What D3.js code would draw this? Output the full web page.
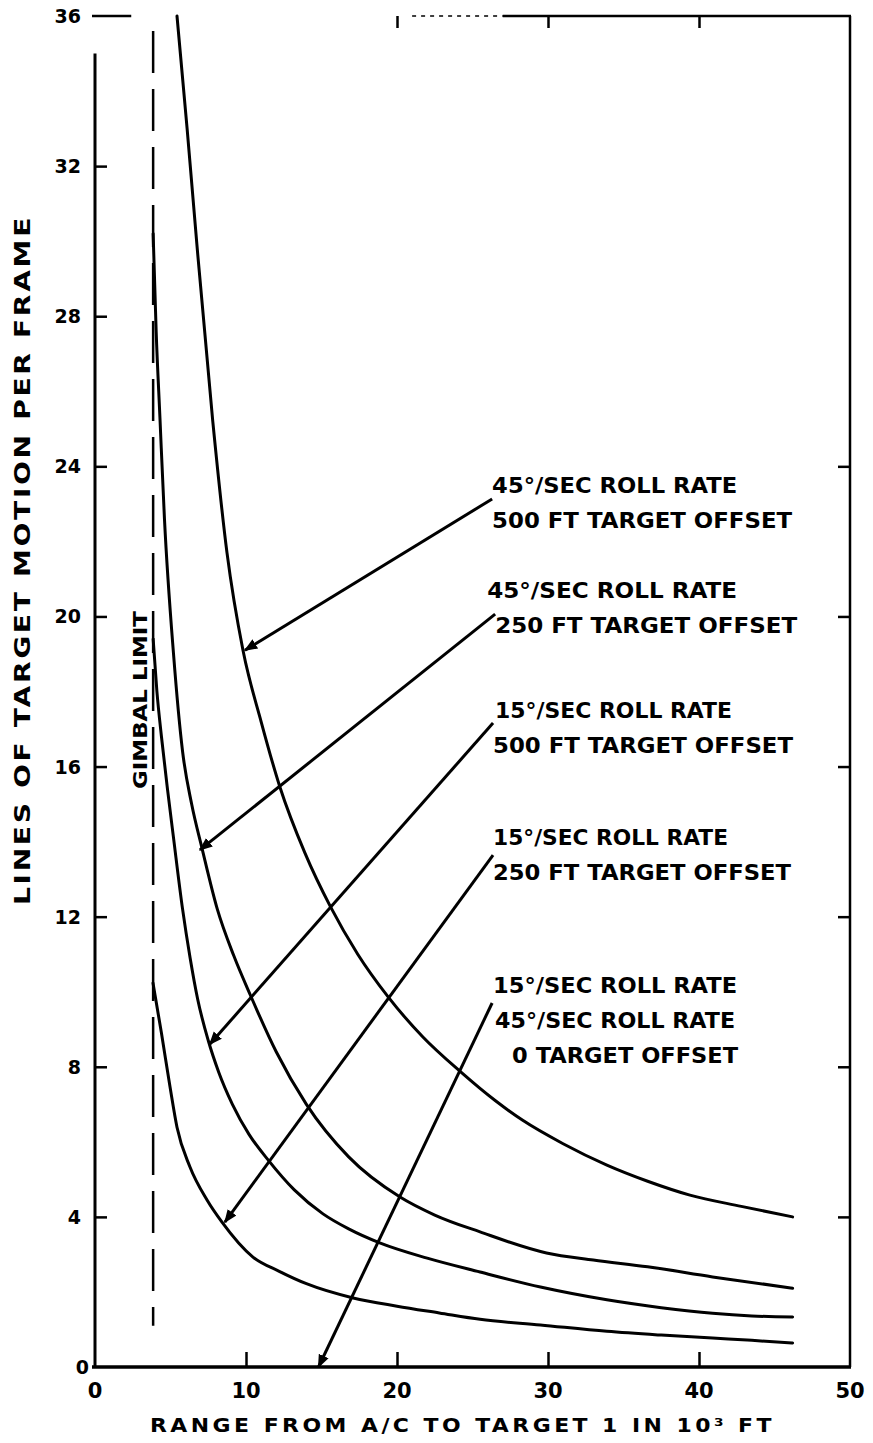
<!DOCTYPE html>
<html><head><meta charset="utf-8">
<script src="https://cdn.jsdelivr.net/npm/d3@7"></script>
<style>
html,body{margin:0;padding:0;background:#fff;}
svg{display:block;}
text{font-family:"DejaVu Sans","Liberation Sans",Arial,sans-serif;font-weight:bold;fill:#000;}
</style></head>
<body>
<script>
// ---- data ----
const xTicks = [0, 10, 20, 30, 40, 50];
const yTicks = [0, 4, 8, 12, 16, 20, 24, 28, 32, 36];
const xTitle = "RANGE FROM A/C TO TARGET 1 IN 10\u00B3 FT";
const yTitle = "LINES OF TARGET MOTION PER FRAME";
const gimbalLimitX = 3.85;
const gimbalRange = [1.1, 35.6];

const roll45off500 = [[5.43,36],[6.1,33.0],[6.75,29.9],[7.8,25.2],[8.74,21.7],[9.8,19.1],[11.0,17.2],[12.25,15.45],[13.9,13.7],[15.6,12.26],[17.4,11.0],[19.4,9.87],[21.7,8.8],[24.2,7.87],[26.5,7.1],[28.3,6.58],[31.0,5.95],[33.9,5.38],[36.6,4.95],[39.4,4.58],[42.8,4.28],[46.2,4.0]];
const roll45off250 = [[3.85,30.2],[4.05,27.6],[4.3,25.3],[4.6,22.6],[5.2,19.0],[5.8,16.4],[6.4,15.0],[7.1,13.8],[8.1,12.2],[9.2,10.95],[10.3,9.9],[12.0,8.4],[14.0,7.0],[16.8,5.6],[20.2,4.53],[22.5,4.05],[25.5,3.6],[29.9,3.04],[33.0,2.85],[36.6,2.67],[40.9,2.4],[46.2,2.1]];
const roll15off500 = [[3.85,19.4],[4.1,18.0],[4.4,16.8],[4.8,15.4],[5.2,14.1],[5.8,12.2],[6.3,10.9],[6.8,9.8],[7.5,8.7],[8.2,7.85],[9.1,7.0],[10.2,6.2],[11.5,5.5],[13.2,4.72],[15.1,4.08],[16.8,3.68],[18.9,3.3],[22.0,2.9],[25.5,2.53],[29.5,2.13],[33.9,1.79],[37.5,1.58],[40.9,1.43],[43.5,1.36],[46.2,1.33]];
const roll15off250 = [[3.84,10.23],[4.4,8.9],[4.97,7.46],[5.43,6.39],[6.29,5.33],[7.42,4.45],[8.41,3.86],[10.46,2.93],[12.2,2.55],[14.0,2.22],[17.1,1.84],[20.0,1.62],[22.8,1.44],[25.5,1.27],[29.5,1.12],[33.9,0.95],[37.5,0.85],[40.9,0.77],[43.5,0.71],[46.2,0.64]];

const labels = [
  ["45\u00B0/SEC ROLL RATE", "500 FT TARGET OFFSET"],
  ["45\u00B0/SEC ROLL RATE", "250 FT TARGET OFFSET"],
  ["15\u00B0/SEC ROLL RATE", "500 FT TARGET OFFSET"],
  ["15\u00B0/SEC ROLL RATE", "250 FT TARGET OFFSET"],
  ["15\u00B0/SEC ROLL RATE", "45\u00B0/SEC ROLL RATE", "0 TARGET OFFSET"]
];
// arrow tail / head in data units
const arrowTails = [[26.3,23.13],[26.5,20.06],[26.36,17.16],[26.36,13.64],[26.3,9.7]];
const arrowHeads = [[9.93,19.1],[6.95,13.78],[7.6,8.6],[8.6,3.86],[14.8,0]];

// ---- layout ----
const W = 873, H = 1443;
const L = 95, R = 850, T = 16, B = 1367;
const x = d3.scaleLinear().domain([0,50]).range([L,R]);
const y = d3.scaleLinear().domain([0,36]).range([B,T]);

const svg = d3.select("body").append("svg").attr("width",W).attr("height",H);
svg.append("defs").append("marker")
  .attr("id","ah").attr("viewBox","0 0 10 10").attr("refX",9).attr("refY",5)
  .attr("markerWidth",4.5).attr("markerHeight",4.5).attr("orient","auto-start-reverse")
  .attr("markerUnits","strokeWidth")
  .append("path").attr("d","M0,1 L10,5 L0,9 z").attr("fill","#000");

// frame
const frame = svg.append("g").attr("stroke","#000").attr("fill","none");
frame.append("line").attr("x1",L).attr("x2",L).attr("y1",y(35)).attr("y2",B).attr("stroke-width",3);
frame.append("line").attr("x1",L-3).attr("x2",R+1).attr("y1",B).attr("y2",B).attr("stroke-width",3.5);
frame.append("line").attr("x1",R).attr("x2",R).attr("y1",T).attr("y2",B).attr("stroke-width",2.5);
frame.append("line").attr("x1",x(27)).attr("x2",R+1).attr("y1",T).attr("y2",T).attr("stroke-width",2.5);
frame.append("line").attr("x1",x(21)).attr("x2",x(27)).attr("y1",T).attr("y2",T).attr("stroke-width",1.5).attr("stroke-dasharray","4,5");
frame.append("line").attr("x1",L-3).attr("x2",x(2.4)).attr("y1",T).attr("y2",T).attr("stroke-width",2.5);

// axes via d3
const xAxis = d3.axisBottom(x).tickValues(xTicks.slice(1,-1)).tickSize(-15).tickFormat("");
svg.append("g").attr("transform",`translate(0,${B})`).call(xAxis)
  .call(g=>{g.select(".domain").remove(); g.selectAll("line").attr("stroke","#000").attr("stroke-width",2.5);});
const xTopAxis = d3.axisTop(x).tickValues(xTicks.slice(2,-1)).tickSize(-12).tickFormat("");
svg.append("g").attr("transform",`translate(0,${T})`).call(xTopAxis)
  .call(g=>{g.select(".domain").remove(); g.selectAll("line").attr("stroke","#000").attr("stroke-width",2.5);});
const yAxis = d3.axisLeft(y).tickValues(yTicks.slice(1,-1)).tickSize(-12).tickFormat("");
svg.append("g").attr("transform",`translate(${L},0)`).call(yAxis)
  .call(g=>{g.select(".domain").remove(); g.selectAll("line").attr("stroke","#000").attr("stroke-width",2.5);});
const yRAxis = d3.axisRight(y).tickValues(yTicks.slice(1,7)).tickSize(-12).tickFormat("");
svg.append("g").attr("transform",`translate(${R},0)`).call(yRAxis)
  .call(g=>{g.select(".domain").remove(); g.selectAll("line").attr("stroke","#000").attr("stroke-width",2.5);});

// tick labels
svg.append("g").selectAll("text").data(xTicks).join("text")
  .attr("x",d=>x(d)).attr("y",B+31).attr("text-anchor","middle")
  .attr("font-size",21).text(d=>d);
svg.append("g").selectAll("text").data(yTicks).join("text")
  .attr("x",d=>d===0?L-6:L-14).attr("y",d=>y(d)+7).attr("text-anchor","end")
  .attr("font-size",19).text(d=>d);

// titles
svg.append("text").attr("x",x(0)+55).attr("y",1432).attr("font-size",19).attr("letter-spacing",3)
  .attr("textLength",625).attr("lengthAdjust","spacingAndGlyphs").text(xTitle);
svg.append("text").attr("transform",`translate(30,905) rotate(-90)`).attr("font-size",21)
  .attr("letter-spacing",2)
  .attr("textLength",690).attr("lengthAdjust","spacingAndGlyphs").text(yTitle);

// gimbal limit
svg.append("line").attr("x1",x(gimbalLimitX)).attr("x2",x(gimbalLimitX))
  .attr("y1",y(gimbalRange[1])).attr("y2",y(gimbalRange[0]))
  .attr("stroke","#000").attr("stroke-width",2.5).attr("stroke-dasharray","42,16");
svg.append("text").attr("transform",`translate(${x(gimbalLimitX)-6},789) rotate(-90)`)
  .attr("font-size",20).attr("textLength",178).attr("lengthAdjust","spacingAndGlyphs").text("GIMBAL LIMIT");

// curves
const line = d3.line().x(d=>x(d[0])).y(d=>y(d[1])).curve(d3.curveMonotoneX);
svg.append("g").selectAll("path").data([roll45off500,roll45off250,roll15off500,roll15off250]).join("path")
  .attr("d",line).attr("fill","none").attr("stroke","#000").attr("stroke-width",3).attr("stroke-linecap","round");

// arrows
svg.append("g").selectAll("line").data(arrowTails).join("line")
  .attr("x1",d=>x(d[0])).attr("y1",d=>y(d[1]))
  .attr("x2",(d,i)=>x(arrowHeads[i][0])).attr("y2",(d,i)=>y(arrowHeads[i][1]))
  .attr("stroke","#000").attr("stroke-width",3).attr("marker-end","url(#ah)");

// annotation labels
const lineWidths = [[245,300],[250,302],[237,300],[235,298],[244,240,226]];
const lineOffsets = [[0,0],[-8,0],[2,0],[0,0],[1,3,20]];
const firstBase = [493,598,718,845,993];
labels.forEach((ls,i)=>{
  ls.forEach((t,j)=>{
    svg.append("text").attr("x",x(arrowTails[i][0])+lineOffsets[i][j])
      .attr("y",firstBase[i]+j*35).attr("font-size",21)
      .attr("textLength",lineWidths[i][j]).attr("lengthAdjust","spacingAndGlyphs").text(t);
  });
});
</script>
</body></html>
